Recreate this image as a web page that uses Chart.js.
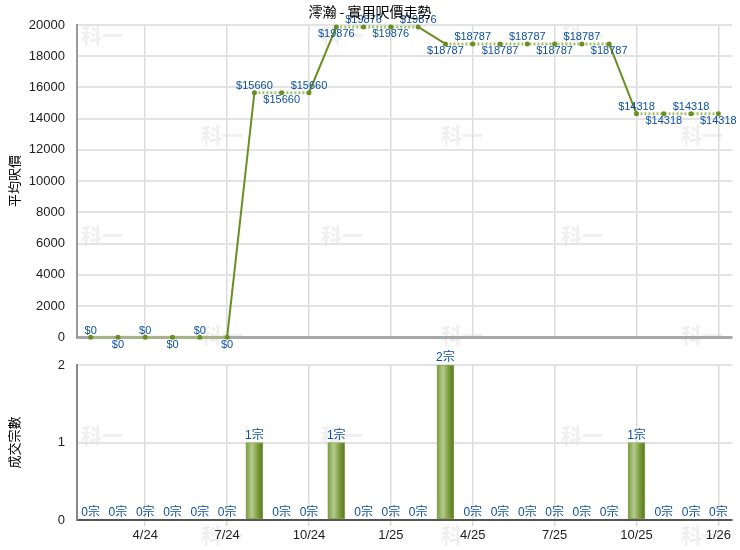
<!DOCTYPE html>
<html>
<head>
<meta charset="utf-8">
<script src="https://cdn.jsdelivr.net/npm/chart.js@4"></script>
<style>
  body { margin: 0; background: #fff; }
  #wrap { position: relative; width: 740px; height: 550px; }
  canvas { position: absolute; left: 0; }
  #price-chart { top: 0; }
  #deal-chart { top: 345px; }
</style>
</head>
<body>
<div id="wrap">
  <canvas id="price-chart" width="740" height="357"></canvas>
  <canvas id="deal-chart" width="740" height="205"></canvas>
</div>
<script>
// Data
const months = [
  "2/24", "3/24", "4/24", "5/24", "6/24", "7/24", "8/24", "9/24", "10/24", "11/24", "12/24", "1/25",
  "2/25", "3/25", "4/25", "5/25", "6/25", "7/25", "8/25", "9/25", "10/25", "11/25", "12/25", "1/26",
];
const avgPrice = [
  0, 0, 0, 0, 0, 0, 15660, 15660, 15660, 19876, 19876, 19876,
  19876, 18787, 18787, 18787, 18787, 18787, 18787, 18787, 14318, 14318, 14318, 14318,
];
const deals = [
  0, 0, 0, 0, 0, 0, 1, 0, 0, 1, 0, 0,
  0, 2, 0, 0, 0, 0, 0, 0, 1, 0, 0, 0,
];
const labelMonths = ["1", "4", "7", "10"];

const FONT = "'Liberation Sans', Arial, 'Noto Sans CJK TC', sans-serif";
const GREEN = "#6b8e23";
const LABEL_BLUE = "#0b4f9e";

const isShown = (i) => labelMonths.includes(months[i].split("/")[0]);

// faint "科一" watermark tiled over the page
const watermark = {
  id: "watermark",
  beforeDraw(chart) {
    const { ctx, canvas } = chart;
    const top = canvas.offsetTop;
    ctx.save();
    ctx.fillStyle = "#efefef";
    ctx.font = "bold 21px 'Noto Sans CJK TC', sans-serif";
    ctx.textAlign = "center";
    ctx.textBaseline = "middle";
    for (let row = 0; row < 6; row++) {
      const y = 35 + row * 100;
      // only the canvas that owns this row paints it
      if (y < top || y >= top + (top === 0 ? 345 : 205)) continue;
      const xs = row % 2 === 0 ? [102, 342, 582] : [222, 462, 702];
      xs.forEach((x) => ctx.fillText("科一", x, y - top));
    }
    ctx.restore();
  },
};

// value labels next to points / bars
const valueLabels = {
  id: "valueLabels",
  afterDatasetsDraw(chart, args, opts) {
    const { ctx } = chart;
    const meta = chart.getDatasetMeta(0);
    const values = chart.data.datasets[0].data;
    ctx.save();
    ctx.fillStyle = LABEL_BLUE;
    ctx.textAlign = "center";
    ctx.font = opts.font;
    meta.data.forEach((el, i) => {
      const text = opts.format(values[i]);
      if (opts.mode === "alternate" && i % 2 === 1) {
        ctx.textBaseline = "top";
        ctx.fillText(text, el.x, el.y + 2);
      } else {
        ctx.textBaseline = "bottom";
        ctx.fillText(text, el.x, el.y - 1);
      }
    });
    ctx.restore();
  },
};

const pageTitle = {
  id: "pageTitle",
  afterDraw(chart, args, opts) {
    if (!opts.text) return;
    const { ctx } = chart;
    ctx.save();
    ctx.fillStyle = "#000";
    ctx.font = "14px 'Noto Sans CJK TC', sans-serif";
    ctx.textAlign = "center";
    ctx.textBaseline = "middle";
    ctx.fillText(opts.text, 370, 12);
    ctx.restore();
  },
};

Chart.defaults.font.family = FONT;
Chart.defaults.color = "#222";

const gridColor = (ctx) => (isShown(ctx.index) ? "#dcdcdc" : "rgba(0,0,0,0)");
const fixWidth = (scale) => { scale.width = 77; };
const plainTick = (v) => String(v);

// Price line chart
new Chart(document.getElementById("price-chart"), {
  type: "line",
  data: {
    labels: months,
    datasets: [
      {
        data: avgPrice,
        clip: false,
        borderColor: GREEN,
        borderWidth: 2,
        pointRadius: 2.5,
        pointBackgroundColor: GREEN,
        pointBorderWidth: 0,
        segment: {
          borderColor: (c) => (c.p0.parsed.y === c.p1.parsed.y ? "#a6c06c" : GREEN),
          borderDash: (c) => (c.p0.parsed.y === c.p1.parsed.y ? [2, 2] : []),
          borderWidth: (c) => (c.p0.parsed.y === c.p1.parsed.y ? 3 : 2),
        },
      },
    ],
  },
  options: {
    responsive: false,
    animation: false,
    layout: { padding: { top: 25, right: 8, bottom: 8, left: 0 } },
    scales: {
      x: {
        offset: true,
        grid: { offset: false, color: gridColor, lineWidth: 1.5, drawTicks: false },
        border: { color: "#a8a8a8", width: 3 },
        ticks: { display: false },
        afterFit: (s) => { s.height = 0; },
      },
      y: {
        min: 0,
        max: 20000,
        afterFit: fixWidth,
        grid: { color: "#e3e3e3", lineWidth: 2, drawTicks: false },
        border: { color: "#999", width: 2 },
        ticks: { stepSize: 2000, padding: 12, font: { size: 13 }, callback: plainTick },
        title: {
          display: true,
          text: "平均呎價",
          padding: { top: 6, bottom: 0 },
          font: { size: 13, family: "'Noto Sans CJK TC', sans-serif" },
          color: "#000",
        },
      },
    },
    plugins: {
      legend: { display: false },
      tooltip: { enabled: false },
      valueLabels: { mode: "alternate", font: "11px " + FONT, format: (v) => "$" + v },
      pageTitle: { text: "澪瀚 - 實用呎價走勢" },
    },
  },
  plugins: [watermark, valueLabels, pageTitle],
});

// Deals bar chart
new Chart(document.getElementById("deal-chart"), {
  type: "bar",
  data: {
    labels: months,
    datasets: [
      {
        data: deals,
        barThickness: 17,
        borderWidth: 1,
        borderSkipped: false,
        borderColor: "#86a552",
        backgroundColor: (ctx) => {
          const chart = ctx.chart;
          if (!chart.chartArea) return GREEN;
          const x = chart.scales.x.getPixelForValue(ctx.dataIndex);
          const g = chart.ctx.createLinearGradient(x - 8.5, 0, x + 8.5, 0);
          g.addColorStop(0, "#7a9a3c");
          g.addColorStop(0.35, "#b5cb8f");
          g.addColorStop(0.7, "#7b9b3b");
          g.addColorStop(1, "#56771d");
          return g;
        },
      },
    ],
  },
  options: {
    responsive: false,
    animation: false,
    layout: { padding: { top: 20, right: 8, bottom: 0, left: 0 } },
    scales: {
      x: {
        offset: true,
        grid: { offset: false, color: gridColor, lineWidth: 1.5, tickLength: 6 },
        border: { color: "#555", width: 2 },
        ticks: {
          autoSkip: false,
          maxRotation: 0,
          padding: 2,
          font: { size: 13 },
          callback: (v, i) => (isShown(i) ? months[i] : ""),
        },
        afterFit: (s) => { s.height = 30; },
      },
      y: {
        min: 0,
        max: 2,
        afterFit: fixWidth,
        grid: { color: "#e3e3e3", lineWidth: 2, drawTicks: false },
        border: { color: "#888", width: 2 },
        ticks: { stepSize: 1, padding: 12, font: { size: 13 }, callback: plainTick },
        title: {
          display: true,
          text: "成交宗數",
          padding: { top: 6, bottom: 0 },
          font: { size: 13, family: "'Noto Sans CJK TC', sans-serif" },
          color: "#000",
        },
      },
    },
    plugins: {
      legend: { display: false },
      tooltip: { enabled: false },
      valueLabels: { mode: "above", font: "12px " + FONT, format: (v) => v + "宗" },
    },
  },
  plugins: [watermark, valueLabels],
});
</script>
</body>
</html>
